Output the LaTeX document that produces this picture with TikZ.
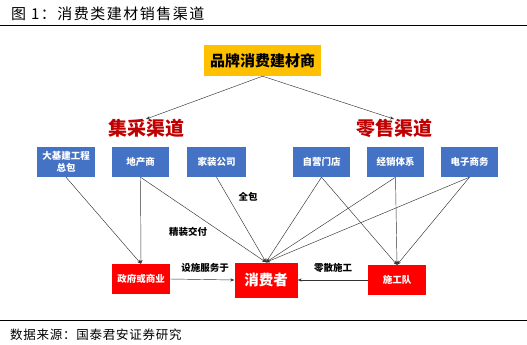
\documentclass[tikz,border=0pt]{standalone}
\usepackage{fontspec}
\setmainfont{Noto Sans CJK SC}
\usetikzlibrary{arrows.meta}
\definecolor{boxblue}{HTML}{4472C4}
\definecolor{boxyellow}{HTML}{FFC000}
\definecolor{boxred}{HTML}{FF0000}
\definecolor{chanred}{HTML}{C00000}
\definecolor{linegray}{HTML}{333333}
\newcommand{\fs}[1]{\fontsize{#1}{#1}\selectfont}
\tikzset{
  bluebox/.style={fill=boxblue, text=white, font=\bfseries\fs{9.5}, minimum width=57.5pt, minimum height=30pt, inner sep=0pt, align=center},
  redbox/.style={fill=boxred, text=white, font=\bfseries\fs{9.5}, minimum width=58pt, minimum height=30pt, inner sep=0pt},
  chan/.style={text=chanred, font=\bfseries\fs{19}, inner sep=0pt},
  conn/.style={draw=linegray, line width=0.45pt, -{Stealth[length=4pt,width=3.2pt]}},
  lbl/.style={font=\bfseries\fs{9.5}, inner sep=0pt},
  rule/.style={draw=black, line width=1pt}
}
\begin{document}
\begin{tikzpicture}[x=1pt,y=-1pt]
\useasboundingbox (0,0) rectangle (527,345);
% title and rules
\node[anchor=west, inner sep=0pt, font=\fs{15}\addfontfeatures{LetterSpace=10}] (title) at (11,13.5) {图 1：消费类建材销售渠道};
\coordinate (tl) at (0,25.5);
\coordinate (tr) at (527,25.5);
\draw[rule] (tl) -- (tr);
\coordinate (bl) at (0,320);
\coordinate (br) at (527,320);
\draw[rule] (bl) -- (br);
\node[anchor=west, inner sep=0pt, font=\fs{12.5}\addfontfeatures{LetterSpace=6}] (src) at (10,335) {数据来源：国泰君安证券研究};
% top
\node[fill=boxyellow, minimum width=117pt, minimum height=31pt, inner sep=0pt, font=\bfseries\fs{15}] (top) at (262.5,60.5) {品牌消费建材商};
\node[chan] (jc) at (146,128.5) {集采渠道};
\node[chan] (ls) at (394,128.5) {零售渠道};
\draw[conn] (top.south) -- (jc.north);
\draw[conn] (top.south) -- (ls.north);
% blue boxes
\node[bluebox] (b1) at (66,162) {大基建工程\\[2.5pt]总包};
\node[bluebox] (b2) at (140.5,162) {地产商};
\node[bluebox, minimum width=59pt] (b3) at (216.5,162) {家装公司};
\node[bluebox] (b4) at (321.5,162) {自营门店};
\node[bluebox] (b5) at (395.5,162) {经销体系};
\node[bluebox] (b6) at (469.5,162) {电子商务};
% red boxes
\node[redbox] (gov) at (141,279) {政府或商业};
\node[redbox, minimum width=63pt, minimum height=35pt, font=\bfseries\fs{14.5}] (con) at (266,280) {消费者};
\node[redbox] (sg) at (397,280) {施工队};
% connectors
\draw[conn] (b1.south) -- (gov.north);
\draw[conn] (b2.south) -- (gov.north);
\draw[conn] (b2.south) -- (con.north);
\draw[conn] (b3.south) -- (con.north);
\draw[conn] (b4.south) -- (con.north);
\draw[conn] (b4.south) -- (sg.north);
\draw[conn] (b5.south) -- (con.north);
\draw[conn] (b5.south) -- (sg.north);
\draw[conn] (b6.south) -- (con.north);
\draw[conn] (b6.south) -- (sg.north);
\draw[conn] (gov.east) -- (con.west);
\draw[conn] (sg.west) -- (con.east);
% labels
\node[lbl] (l1) at (248,197) {全包};
\node[lbl] (l2) at (188,232) {精装交付};
\node[lbl] (l3) at (205,268) {设施服务于};
\node[lbl] (l4) at (333,267.5) {零散施工};
\end{tikzpicture}
\end{document}
